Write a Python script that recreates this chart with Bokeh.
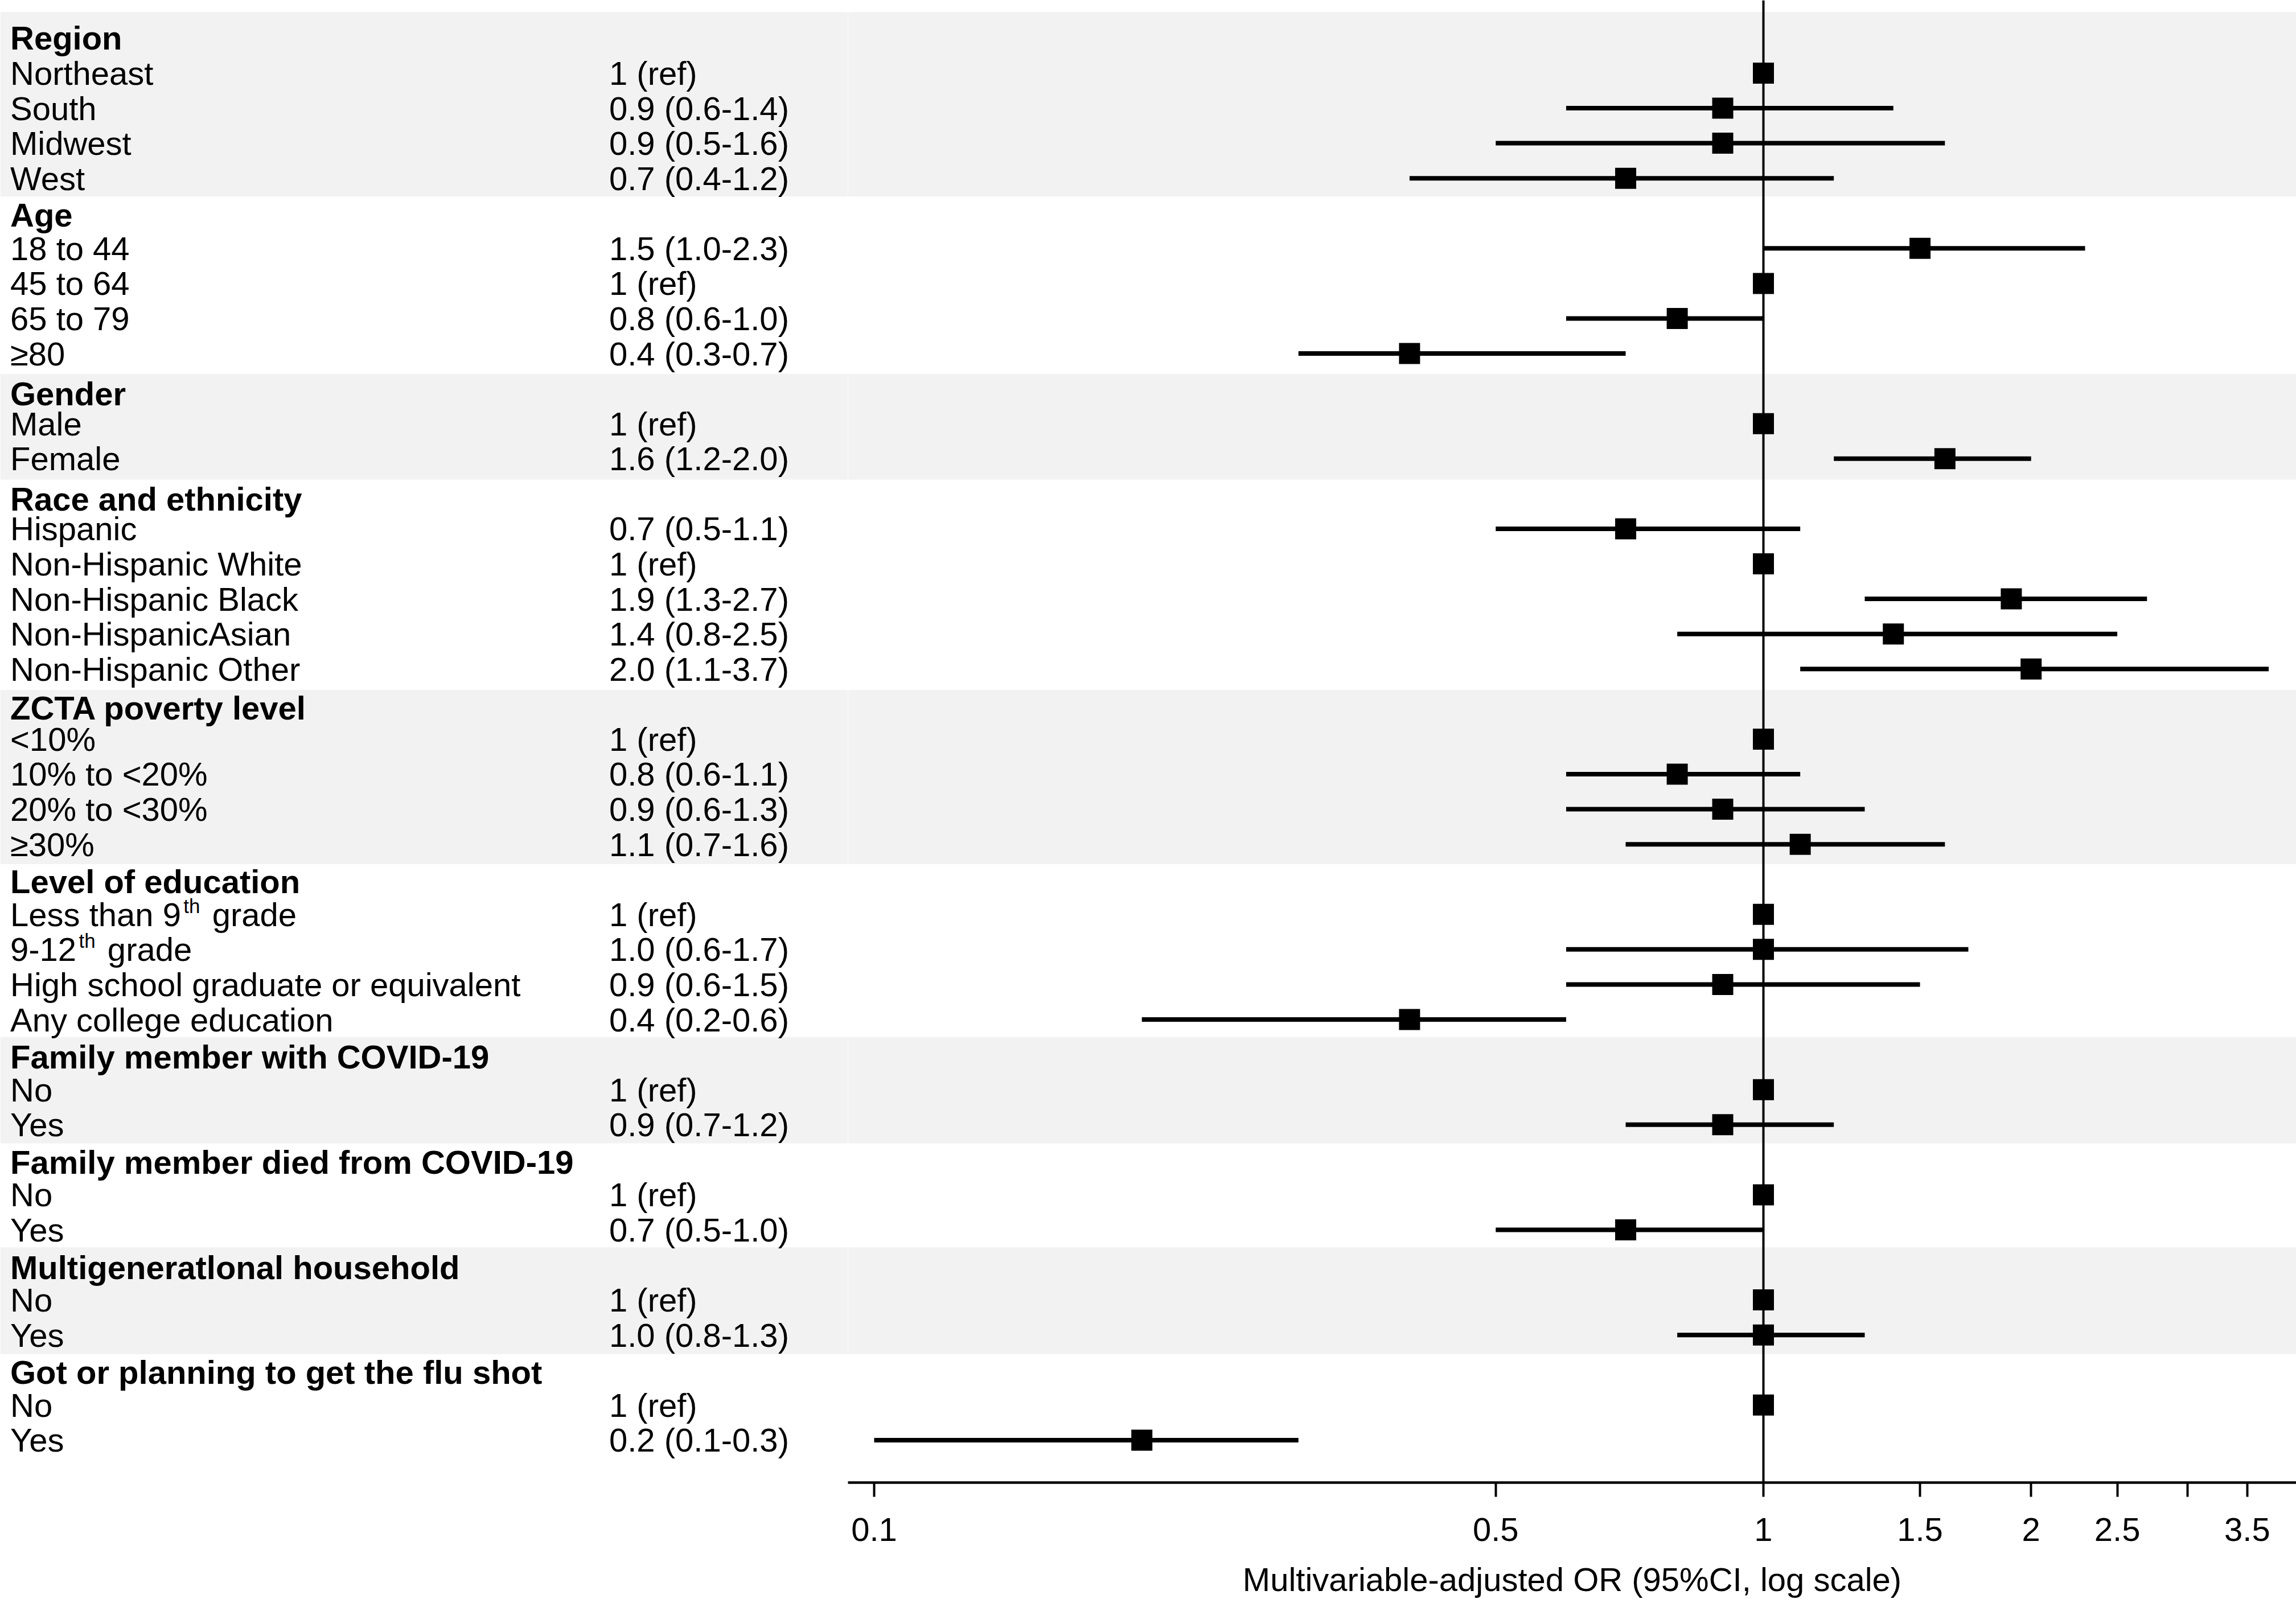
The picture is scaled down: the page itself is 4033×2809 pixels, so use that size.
from bokeh.plotting import figure
from bokeh.models import Range1d, ColumnDataSource, BoxAnnotation, Span, FixedTicker
from bokeh.layouts import row
from bokeh.core.properties import value
from bokeh.embed import file_html
from bokeh.resources import INLINE

# ---------------- data ----------------
group_names = [
    "Region", "Age", "Gender", "Race and ethnicity", "ZCTA poverty level",
    "Level of education", "Family member with COVID-19",
    "Family member died from COVID-19", "Multigeneratlonal household",
    "Got or planning to get the flu shot",
]
group_sizes = [4, 4, 2, 5, 4, 4, 2, 2, 2, 2]

level_labels = [
    "Northeast", "South", "Midwest", "West",
    "18 to 44", "45 to 64", "65 to 79", "\u226580",
    "Male", "Female",
    "Hispanic", "Non-Hispanic White", "Non-Hispanic Black", "Non-HispanicAsian", "Non-Hispanic Other",
    "<10%", "10% to <20%", "20% to <30%", "\u226530%",
    "Less than 9<sup>th</sup> grade", "9-12<sup>th</sup> grade",
    "High school graduate or equivalent", "Any college education",
    "No", "Yes",
    "No", "Yes",
    "No", "Yes",
    "No", "Yes",
]
odds_ratio = [1, 0.9, 0.9, 0.7,
              1.5, 1, 0.8, 0.4,
              1, 1.6,
              0.7, 1, 1.9, 1.4, 2.0,
              1, 0.8, 0.9, 1.1,
              1, 1.0, 0.9, 0.4,
              1, 0.9,
              1, 0.7,
              1, 1.0,
              1, 0.2]
ci_lower = [None, 0.6, 0.5, 0.4,
            1.0, None, 0.6, 0.3,
            None, 1.2,
            0.5, None, 1.3, 0.8, 1.1,
            None, 0.6, 0.6, 0.7,
            None, 0.6, 0.6, 0.2,
            None, 0.7,
            None, 0.5,
            None, 0.8,
            None, 0.1]
ci_upper = [None, 1.4, 1.6, 1.2,
            2.3, None, 1.0, 0.7,
            None, 2.0,
            1.1, None, 2.7, 2.5, 3.7,
            None, 1.1, 1.3, 1.6,
            None, 1.7, 1.5, 0.6,
            None, 1.2,
            None, 1.0,
            None, 1.3,
            None, 0.3]

tick_values = [0.1, 0.5, 1, 1.5, 2, 2.5, 3.5]
tick_labels = ["0.1", "0.5", "1", "1.5", "2", "2.5", "3.5"]
unlabeled_ticks = [3]
x_axis_title = "Multivariable-adjusted OR (95%CI, log scale)"

# ---------------- layout constants (pixels) ----------------
FONT = "Liberation Sans"
FS = 58
SUP_FS = 35
H = 2809
LEFT_W = 1489
RIGHT_W = 2544
BOTTOM = 2809 - 2608
ROW_PX = 61.67
FIRST_ROW_PX = 66.5
Y_TOP = FIRST_ROW_PX / ROW_PX
Y_BOT = -(H - BOTTOM - FIRST_ROW_PX) / ROW_PX
X_LEFT = 10 ** ((1489 - 3097) / 1562)
X_RIGHT = 10 ** ((4033 - 3097) / 1562)
LABEL_X = 17.5
EST_X = 1069.5
SUP_RAISE_PX = 15.3
HEADER_NUDGE_PX = [0, 3, 9, 9, 7, 4, 4, 4, 4, 4]
BAND_EDGE_NUDGE_PX = [1, 5, 6, 6, 4, 0, 2, 0, 3]
FIRST_BAND_TOP_PX = 20.7

ARIAL = {'L': 556, 'e': 556, 's': 500, ' ': 278, 't': 278, 'h': 556, 'a': 556,
         'n': 556, '9': 556, '-': 333, '1': 556, '2': 556}


def text_w(s, size):
    return sum(ARIAL.get(c, 556) for c in s) * size / 1000.0


def px_to_y(px_down):
    return px_down / ROW_PX


# ---------------- build rows ----------------
header_rows, level_rows, bands = [], [], []
r = 0
for g, n in enumerate(group_sizes):
    header_rows.append(r)
    start = r
    r += 1
    for _ in range(n):
        level_rows.append(r)
        r += 1
    bands.append((start, r - 1))

main_x, main_y, main_t = [], [], []
sup_x, sup_y, sup_t = [], [], []
for lab, rr in zip(level_labels, level_rows):
    if "<sup>" in lab:
        a, rest = lab.split("<sup>")
        s, b = rest.split("</sup>")
        main_x.append(LABEL_X); main_y.append(-rr); main_t.append(a)
        sx = LABEL_X + text_w(a, FS) + 4.5
        sup_x.append(sx); sup_y.append(-rr + px_to_y(SUP_RAISE_PX)); sup_t.append(s)
        lead = len(b) - len(b.lstrip())
        bx = sx + text_w(s, SUP_FS) + 5 + text_w(" " * lead, FS)
        main_x.append(bx); main_y.append(-rr); main_t.append(b.lstrip())
    else:
        main_x.append(LABEL_X); main_y.append(-rr); main_t.append(lab)

est_t = []
for o, lo, hi in zip(odds_ratio, ci_lower, ci_upper):
    if lo is None:
        est_t.append("%g (ref)" % o)
    else:
        est_t.append("%.1f (%.1f-%.1f)" % (o, lo, hi))

header_y = [-h - px_to_y(n) for h, n in zip(header_rows, HEADER_NUDGE_PX)]

# band edges (between consecutive groups)
edges = []
for gi in range(len(bands) - 1):
    edges.append(-(bands[gi][1] + 0.5) - px_to_y(BAND_EDGE_NUDGE_PX[gi]))

# ---------------- figures ----------------
left = figure(width=LEFT_W, height=H, x_range=Range1d(0, LEFT_W), y_range=Range1d(Y_BOT, Y_TOP),
              output_backend="svg", toolbar_location=None, x_axis_location=None,
              y_axis_location=None, min_border_left=0, min_border_right=0,
              min_border_top=0, min_border_bottom=BOTTOM)
right = figure(width=RIGHT_W, height=H, x_axis_type="log", x_range=Range1d(X_LEFT, X_RIGHT),
               y_range=Range1d(Y_BOT, Y_TOP), output_backend="svg", toolbar_location=None,
               y_axis_location=None, min_border_left=0, min_border_right=0,
               min_border_top=0, min_border_bottom=BOTTOM)

for p in (left, right):
    p.outline_line_color = None
    p.grid.visible = False
    p.background_fill_color = "white"
    p.border_fill_color = "white"
    for gi in range(len(bands)):
        if gi % 2 == 0:
            top = edges[gi - 1] if gi > 0 else Y_TOP - px_to_y(FIRST_BAND_TOP_PX)
            bottom = edges[gi] if gi < len(edges) else -(bands[gi][1] + 0.5)
            p.add_layout(BoxAnnotation(top=top, bottom=bottom, fill_color="#f2f2f2",
                                       fill_alpha=1, line_color=None, level="underlay"))

left.text(x=[LABEL_X] * len(header_rows), y=header_y, text=group_names,
          text_font=value(FONT), text_font_size="%dpx" % FS, text_font_style="bold",
          text_baseline="middle", text_color="black")
left.text(x=main_x, y=main_y, text=main_t, text_font=value(FONT), text_font_size="%dpx" % FS,
          text_baseline="middle", text_color="black")
left.text(x=sup_x, y=sup_y, text=sup_t, text_font=value(FONT), text_font_size="%dpx" % SUP_FS,
          text_baseline="middle", text_color="black")
left.text(x=[EST_X] * len(est_t), y=[-rr for rr in level_rows], text=est_t, text_font=value(FONT),
          text_font_size="%dpx" % FS, text_baseline="middle", text_color="black")

# ---------------- forest marks ----------------
right.add_layout(Span(location=1, dimension="height", line_color="black", line_width=4))

ci_src = ColumnDataSource(dict(
    lo=[lo for lo in ci_lower if lo is not None],
    hi=[hi for hi in ci_upper if hi is not None],
    y=[-rr for rr, lo in zip(level_rows, ci_lower) if lo is not None],
))
right.segment(x0="lo", x1="hi", y0="y", y1="y", source=ci_src, line_color="black",
              line_width=8, line_cap="butt")
right.scatter(x=odds_ratio, y=[-rr for rr in level_rows], marker="square", size=37,
              fill_color="black", line_color=None)

ax = right.xaxis[0]
ax.ticker = FixedTicker(ticks=tick_values, minor_ticks=unlabeled_ticks)
ax.major_label_overrides = {v: t for v, t in zip(tick_values, tick_labels)}
ax.axis_line_width = 4.5
ax.axis_line_color = "black"
ax.major_tick_out = 25
ax.major_tick_in = 0
ax.major_tick_line_width = 4
ax.minor_tick_out = 25
ax.minor_tick_in = 0
ax.minor_tick_line_width = 4
ax.major_label_text_font = FONT
ax.major_label_text_font_size = "%dpx" % FS
ax.major_label_text_color = "black"
ax.major_label_standoff = 37
ax.axis_label = x_axis_title
ax.axis_label_text_font = FONT
ax.axis_label_text_font_size = "%dpx" % FS
ax.axis_label_text_font_style = "normal"
ax.axis_label_text_color = "black"
ax.axis_label_standoff = 32

layout = row(left, right)
open("out.html", "w").write(file_html(layout, INLINE))
